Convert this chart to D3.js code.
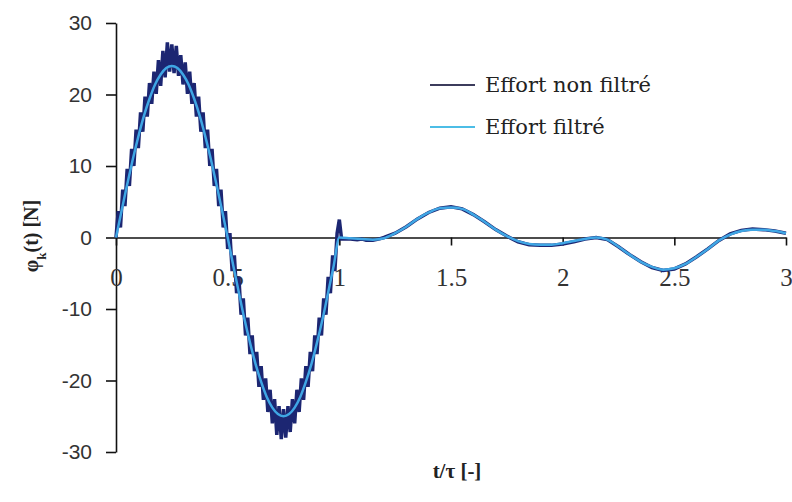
<!DOCTYPE html>
<html>
<head>
<meta charset="utf-8">
<script src="https://cdn.jsdelivr.net/npm/d3@7"></script>
<style>
  body { margin: 0; background: #fff; }
  svg { display: block; }
</style>
</head>
<body>
<div id="chart"></div>
<script>
// ---- data ----
// raw force (non filtered), t/tau
const tRaw = [0,0.01,0.02,0.03,0.04,0.05,0.06,0.07,0.08,0.09,0.10,0.11,0.12,0.13,0.14,0.15,0.16,0.17,0.18,0.19,
  0.20,0.21,0.22,0.23,0.24,0.25,0.26,0.27,0.28,0.29,0.30,0.31,0.32,0.33,0.34,0.35,0.36,0.37,0.38,0.39,
  0.40,0.41,0.42,0.43,0.44,0.45,0.46,0.47,0.48,0.49,0.50,0.51,0.52,0.53,0.54,0.55,0.56,0.57,0.58,0.59,
  0.60,0.61,0.62,0.63,0.64,0.65,0.66,0.67,0.68,0.69,0.70,0.71,0.72,0.73,0.74,0.75,0.76,0.77,0.78,0.79,
  0.80,0.81,0.82,0.83,0.84,0.85,0.86,0.87,0.88,0.89,0.90,0.91,0.92,0.93,0.94,0.95,0.96,0.97,0.98,0.99,
  1.00,1.01,1.05,1.08,1.10,1.12,1.15,1.18,1.20,1.25,1.30,1.35,1.40,1.45,1.50,1.55,1.60,1.65,1.70,1.75,
  1.80,1.85,1.90,1.95,2.00,2.05,2.10,2.15,2.20,2.25,2.30,2.35,2.40,2.45,2.50,2.55,2.60,2.65,2.70,2.75,
  2.80,2.85,2.90,2.95,3.00];
const yRaw = [0,3.7,1.4,6.7,4.4,9.6,7.2,12.4,10.0,15.1,12.5,17.5,14.8,19.7,16.9,21.6,18.7,23.2,20.1,24.8,
  21.2,26.1,22.4,27.3,23.2,27.0,23.0,26.8,22.6,25.5,21.4,24.5,20.1,23.2,18.7,21.6,16.9,19.7,14.8,17.5,
  12.5,15.1,10.0,12.4,7.2,9.6,4.4,6.7,1.4,3.7,-1.6,0.6,-4.7,-2.5,-7.8,-5.5,-10.8,-8.5,-13.7,-11.2,
  -16.3,-13.7,-18.7,-16.0,-20.9,-18.0,-22.7,-19.7,-24.4,-21.3,-26.0,-22.6,-27.6,-23.6,-28.2,-24.0,-28.0,-23.6,-27.2,-22.6,
  -26.0,-21.3,-24.4,-19.7,-22.7,-18.0,-20.9,-16.0,-18.7,-13.7,-16.3,-11.2,-13.7,-8.5,-10.8,-5.5,-7.8,-2.5,-4.7,0.6,
  2.5,-0.2,-0.2,-0.3,-0.2,-0.4,-0.4,-0.2,0.0,0.6,1.5,2.6,3.5,4.1,4.3,4.0,3.2,2.2,1.1,0.2,
  -0.6,-1.0,-1.1,-1.1,-0.9,-0.6,-0.2,0.0,-0.3,-1.3,-2.4,-3.4,-4.2,-4.6,-4.4,-3.7,-2.7,-1.6,-0.4,0.5,
  1.0,1.2,1.1,0.9,0.6];

// filtered force
const tFilt = [0,0.025,0.05,0.075,0.10,0.125,0.15,0.175,0.20,0.225,0.25,0.275,0.30,0.325,0.35,0.375,0.40,0.425,0.45,0.475,
  0.50,0.525,0.55,0.575,0.60,0.625,0.65,0.675,0.70,0.725,0.75,0.775,0.80,0.825,0.85,0.875,0.90,0.925,0.95,0.975,
  1.00,1.05,1.10,1.15,1.20,1.25,1.30,1.35,1.40,1.45,1.50,1.55,1.60,1.65,1.70,1.75,1.80,1.85,1.90,1.95,
  2.00,2.05,2.10,2.15,2.20,2.25,2.30,2.35,2.40,2.45,2.50,2.55,2.60,2.65,2.70,2.75,2.80,2.85,2.90,2.95,3.00];
const yFilt = [0,3.75,7.4,10.9,14.1,17.0,19.4,21.4,22.8,23.7,24.0,23.7,22.8,21.4,19.4,17.0,14.1,10.9,7.4,3.75,
  0,-3.9,-7.7,-11.4,-14.7,-17.7,-20.2,-22.3,-23.8,-24.7,-25.0,-24.7,-23.8,-22.3,-20.2,-17.7,-14.7,-11.4,-7.7,-3.9,
  0,-0.1,-0.2,-0.3,-0.1,0.6,1.5,2.6,3.5,4.1,4.2,4.0,3.2,2.2,1.1,0.2,-0.5,-0.9,-1.0,-1.0,
  -0.8,-0.5,-0.2,0.0,-0.3,-1.3,-2.4,-3.4,-4.1,-4.5,-4.3,-3.7,-2.7,-1.6,-0.4,0.4,0.9,1.1,1.1,0.9,0.6];

const xTicks = [0, 0.5, 1, 1.5, 2, 2.5, 3];
const yTicks = [-30, -20, -10, 0, 10, 20, 30];
const seriesNames = ["Effort non filtré", "Effort filtré"];
const seriesColors = ["#1c2672", "#3fa6e4"];
const legendColors = ["#3c3c5c", "#4cbde6"];

// ---- chart ----
const W = 792, H = 502;
const svg = d3.select("#chart").append("svg")
  .attr("width", W)
  .attr("height", H);

const x = d3.scaleLinear().domain([0, 3]).range([116, 786]);
const y = d3.scaleLinear().domain([-30, 30]).range([452, 23]);

// y axis
const gy = svg.append("g")
  .attr("transform", "translate(" + x(0) + ",0)")
  .call(d3.axisLeft(y).tickValues(yTicks).tickFormat(d => String(d)).tickSize(10).tickSizeOuter(0).tickPadding(14));
gy.selectAll("text")
  .style("font-family", "'Liberation Sans', Arial, sans-serif")
  .style("font-size", "21px")
  .attr("fill", "#333");

// x axis on y = 0
const gx = svg.append("g")
  .attr("transform", "translate(0," + y(0) + ")")
  .call(d3.axisBottom(x).tickValues(xTicks).tickFormat(d => String(d)).tickSize(8).tickSizeOuter(0).tickPadding(23));
gx.selectAll("text")
  .style("font-family", "'Liberation Serif', 'Times New Roman', serif")
  .style("font-size", "25px")
  .attr("fill", "#333");

svg.selectAll(".domain, .tick line").attr("stroke", "#111").attr("stroke-width", 1.6);

// lines
const rawPts = tRaw.map((t, i) => [t, yRaw[i]]);
const filtPts = tFilt.map((t, i) => [t, yFilt[i]]);

svg.append("path")
  .datum(rawPts)
  .attr("fill", "none")
  .attr("stroke", seriesColors[0])
  .attr("stroke-width", 3.5)
  .attr("stroke-linejoin", "miter")
  .attr("d", d3.line().x(d => x(d[0])).y(d => y(d[1])));

svg.append("path")
  .datum(filtPts)
  .attr("fill", "none")
  .attr("stroke", seriesColors[1])
  .attr("stroke-width", 2.5)
  .attr("d", d3.line().curve(d3.curveMonotoneX).x(d => x(d[0])).y(d => y(d[1])));

// legend
const legend = svg.append("g");
seriesNames.forEach((name, i) => {
  const ly = 85 + i * 42;
  legend.append("line")
    .attr("x1", 430).attr("x2", 475)
    .attr("y1", ly).attr("y2", ly)
    .attr("stroke", legendColors[i])
    .attr("stroke-width", 2);
  legend.append("text")
    .attr("x", 485).attr("y", ly + 7)
    .style("font-family", "'DejaVu Serif', serif")
    .style("font-size", "21px")
    .attr("fill", "#222")
    .text(name);
});

// axis titles
svg.append("text")
  .attr("x", 457).attr("y", 478)
  .attr("text-anchor", "middle")
  .style("font-family", "'Liberation Serif', 'Times New Roman', serif")
  .style("font-size", "21px")
  .style("font-weight", "bold")
  .attr("fill", "#222")
  .text("t/τ [-]");

const yt = svg.append("text")
  .attr("transform", "translate(38,236) rotate(-90)")
  .attr("text-anchor", "middle")
  .style("font-family", "'Liberation Serif', 'Times New Roman', serif")
  .style("font-size", "20px")
  .style("font-weight", "bold")
  .attr("fill", "#222");
yt.append("tspan").text("φ");
yt.append("tspan").attr("baseline-shift", "sub").style("font-size", "13px").text("k");
yt.append("tspan").text("(t) [N]");
</script>
</body>
</html>
